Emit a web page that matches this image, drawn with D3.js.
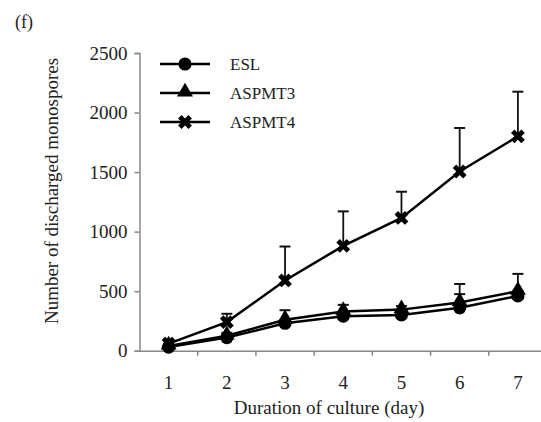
<!DOCTYPE html>
<html>
<head>
<meta charset="utf-8">
<script src="https://cdn.jsdelivr.net/npm/d3@7"></script>
<style>
  body { margin: 0; background: #fff; }
  svg text { font-family: 'Liberation Serif', 'DejaVu Serif', serif !important; fill: #222; }
</style>
</head>
<body>
<script>
var w = 541;
var h = 422;
var serif = "'Liberation Serif', 'DejaVu Serif', serif";

// data
var days = [1, 2, 3, 4, 5, 6, 7];
var eslMean = [30, 110, 230, 290, 300, 360, 460];
var eslErr = [10, 20, 25, 30, 25, 115, 40];
var aspmt3Mean = [40, 125, 260, 330, 345, 405, 500];
var aspmt3Err = [15, 25, 80, 55, 30, 155, 145];
var aspmt4Mean = [60, 240, 590, 880, 1115, 1505, 1800];
var aspmt4Err = [20, 70, 285, 290, 220, 365, 375];
var yTicks = [0, 500, 1000, 1500, 2000, 2500];
var seriesNames = ["ESL", "ASPMT3", "ASPMT4"];

var series = [
  { name: seriesNames[0], mean: eslMean, err: eslErr, shape: "circle" },
  { name: seriesNames[1], mean: aspmt3Mean, err: aspmt3Err, shape: "triangle" },
  { name: seriesNames[2], mean: aspmt4Mean, err: aspmt4Err, shape: "x" }
];

var svg = d3.select("body").append("svg")
            .attr("width", w)
            .attr("height", h)
            .style("font-family", serif);

var x = d3.scaleBand().domain(days).range([139.5, 547]).padding(0);
var y = d3.scaleLinear().domain([0, 2500]).range([350.7, 53]);
var cx = function(d) { return x(d) + x.bandwidth() / 2; };

function markerPath(shape) {
  if (shape === "circle") return d3.symbol().type(d3.symbolCircle).size(135)();
  if (shape === "triangle") return d3.symbol().type(d3.symbolTriangle).size(110)();
  return d3.symbol().type(d3.symbolCross).size(120)();
}
function markerTransform(shape, px, py) {
  if (shape === "x") return "translate(" + px + "," + py + ") rotate(45)";
  if (shape === "triangle") return "translate(" + px + "," + (py - 1) + ")";
  return "translate(" + px + "," + py + ")";
}

// panel letter
svg.append("text")
   .attr("x", 15)
   .attr("y", 28)
   .style("font-size", "18px")
   .text("(f)");

// y axis
var yAxis = svg.append("g")
   .attr("transform", "translate(139.5,0)")
   .call(d3.axisLeft(y).tickValues(yTicks).tickSize(5).tickPadding(7).tickFormat(d3.format("d")));
yAxis.attr("font-family", null);
yAxis.select(".domain").attr("stroke", "#888").attr("stroke-width", 1.5);
yAxis.selectAll(".tick line").attr("stroke", "#888").attr("stroke-width", 1.5);
yAxis.selectAll(".tick text")
     .style("font-size", "19px")
     .attr("fill", "#222");

// x axis
var xAxis = svg.append("g")
   .attr("transform", "translate(0," + y(0) + ")")
   .call(d3.axisBottom(x).tickSize(0).tickPadding(25));
xAxis.attr("font-family", null);
xAxis.select(".domain").attr("stroke", "#888").attr("stroke-width", 1.5);
xAxis.selectAll(".tick text")
     .style("font-size", "19px")
     .attr("fill", "#222");
// tick marks sit between the categories
xAxis.selectAll(".bound")
     .data(days.slice(1))
     .enter().append("line")
     .attr("x1", function(d) { return x(d); })
     .attr("x2", function(d) { return x(d); })
     .attr("y1", 0)
     .attr("y2", 5)
     .attr("stroke", "#888")
     .attr("stroke-width", 1.5);

// axis titles
svg.append("text")
   .attr("x", 329)
   .attr("y", 414)
   .attr("text-anchor", "middle")
   .style("font-size", "19px")
   .text("Duration of culture (day)");

svg.append("text")
   .attr("transform", "translate(58,191) rotate(-90)")
   .attr("text-anchor", "middle")
   .style("font-size", "19px")
   .text("Number of discharged monospores");

// error bars (upper only)
series.forEach(function(s) {
  var g = svg.append("g");
  g.selectAll("line.err")
   .data(days)
   .enter().append("line")
   .attr("x1", function(d) { return cx(d); })
   .attr("x2", function(d) { return cx(d); })
   .attr("y1", function(d, i) { return y(s.mean[i]); })
   .attr("y2", function(d, i) { return y(s.mean[i] + s.err[i]); })
   .attr("stroke", "#111")
   .attr("stroke-width", 1.8);
  g.selectAll("line.cap")
   .data(days)
   .enter().append("line")
   .attr("x1", function(d) { return cx(d) - 5.5; })
   .attr("x2", function(d) { return cx(d) + 5.5; })
   .attr("y1", function(d, i) { return y(s.mean[i] + s.err[i]); })
   .attr("y2", function(d, i) { return y(s.mean[i] + s.err[i]); })
   .attr("stroke", "#111")
   .attr("stroke-width", 2);
});

// lines and markers
var line = d3.line()
  .x(function(d) { return cx(d.day); })
  .y(function(d) { return y(d.v); });

series.forEach(function(s) {
  var pts = days.map(function(d, i) { return { day: d, v: s.mean[i] }; });
  svg.append("path")
     .datum(pts)
     .attr("d", line)
     .attr("fill", "none")
     .attr("stroke", "#000")
     .attr("stroke-width", 2.5);
  svg.selectAll(null)
     .data(pts)
     .enter().append("path")
     .attr("d", markerPath(s.shape))
     .attr("transform", function(d) { return markerTransform(s.shape, cx(d.day), y(d.v)); })
     .attr("fill", "#000");
});

// legend
var legendY = [64, 93, 122];
series.forEach(function(s, i) {
  var g = svg.append("g");
  g.append("line")
   .attr("x1", 160).attr("x2", 210)
   .attr("y1", legendY[i]).attr("y2", legendY[i])
   .attr("stroke", "#000")
   .attr("stroke-width", 2.5);
  g.append("path")
   .attr("d", markerPath(s.shape))
   .attr("transform", markerTransform(s.shape, 185, legendY[i]))
   .attr("fill", "#000");
  g.append("text")
   .attr("x", 230)
   .attr("y", legendY[i] + 6)
   .style("font-size", "17px")
   .text(s.name);
});
</script>
</body>
</html>
